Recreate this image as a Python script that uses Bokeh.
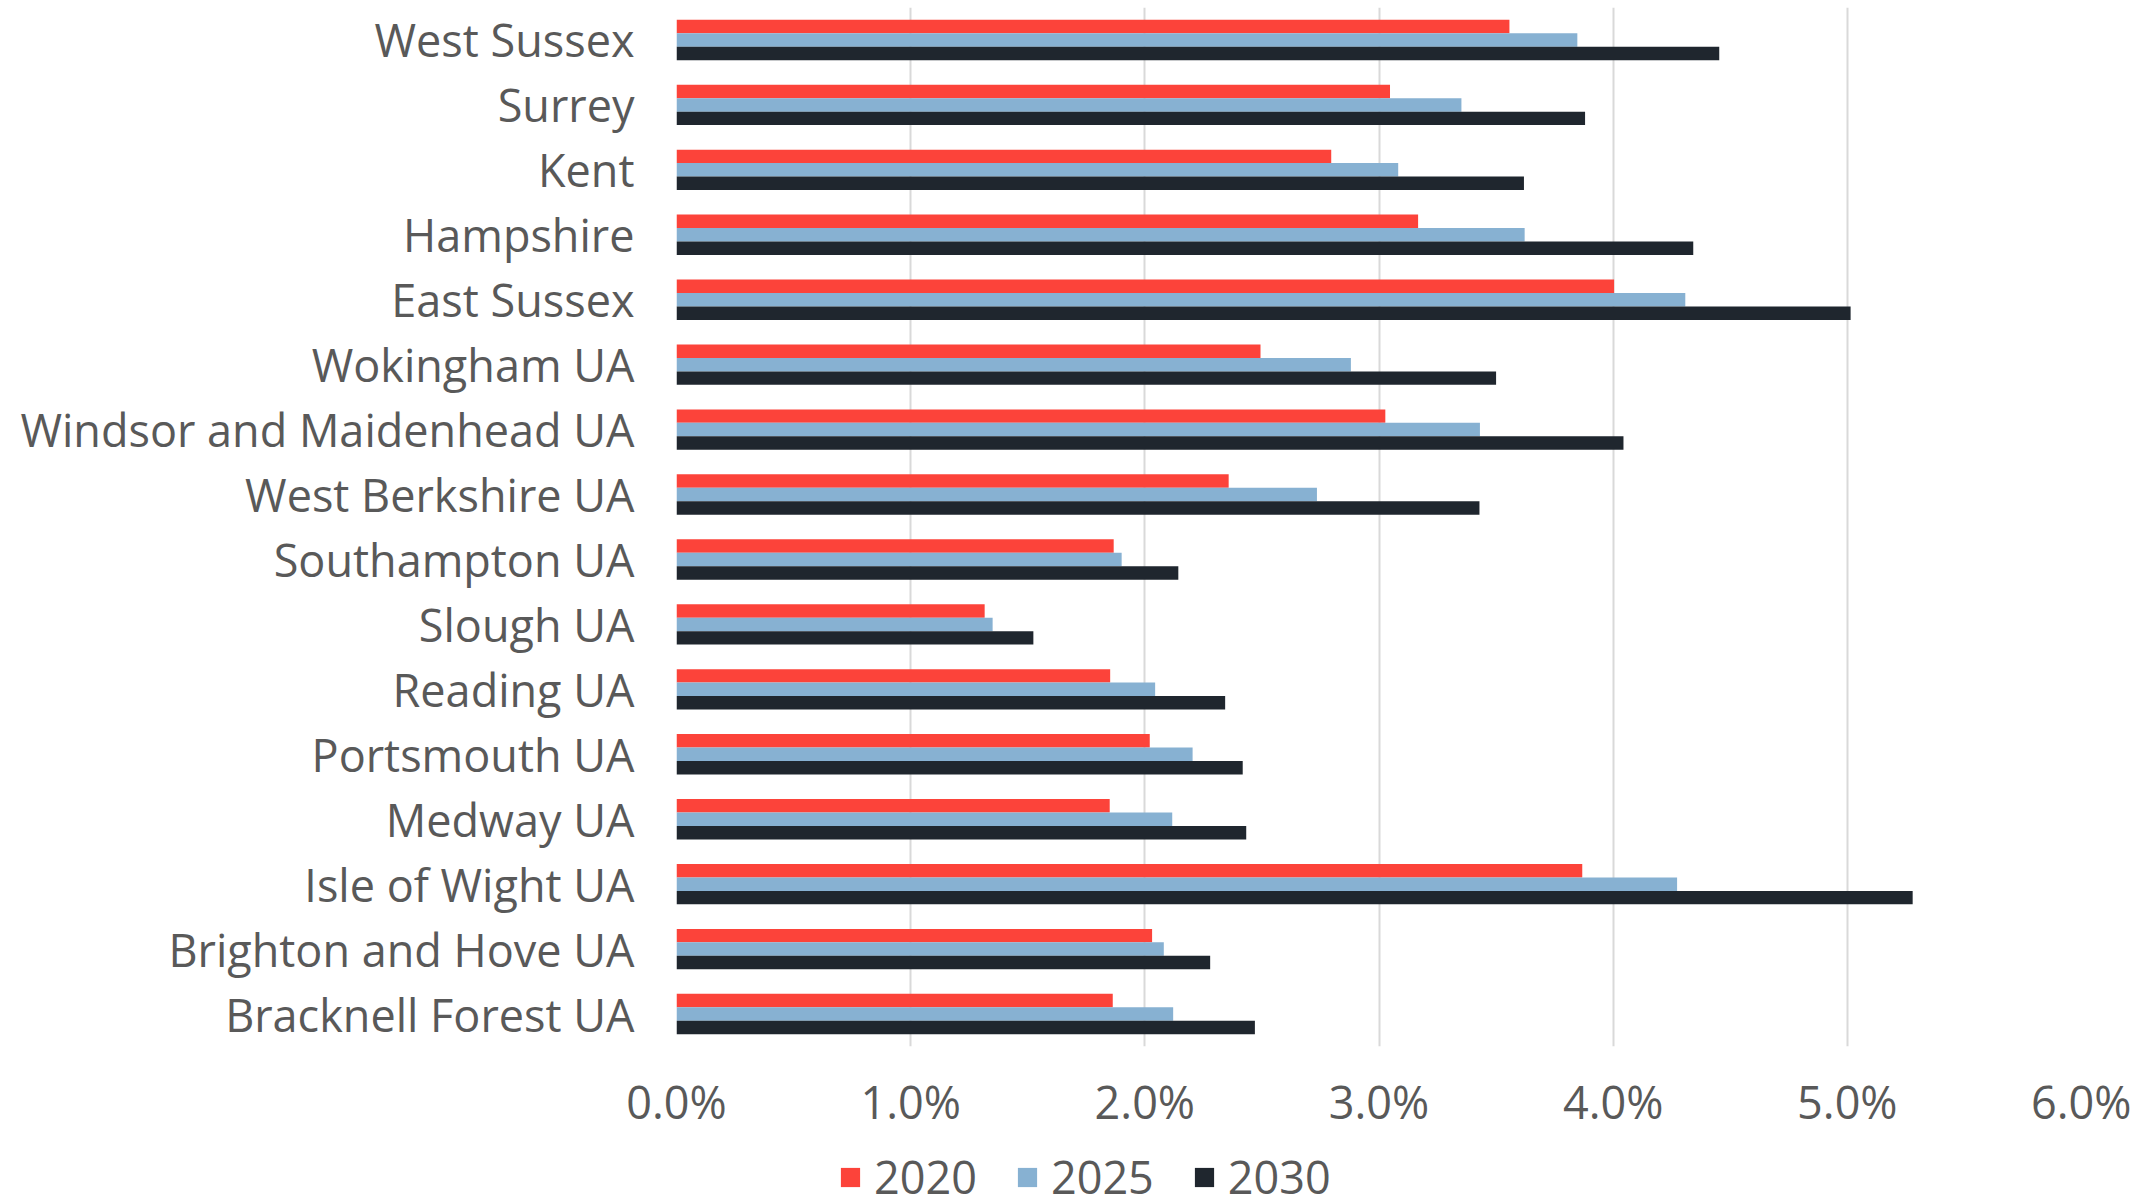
from bokeh.plotting import figure
from bokeh.models import (FactorRange, Range1d, Legend, LegendItem, PrintfTickFormatter,
                          FixedTicker, ColumnDataSource)
from bokeh.layouts import column
from bokeh.transform import dodge
from bokeh.embed import file_html
from bokeh.resources import INLINE

# Categories (top to bottom as shown)
categories = ["West Sussex", "Surrey", "Kent", "Hampshire", "East Sussex", "Wokingham UA",
              "Windsor and Maidenhead UA", "West Berkshire UA", "Southampton UA", "Slough UA",
              "Reading UA", "Portsmouth UA", "Medway UA", "Isle of Wight UA",
              "Brighton and Hove UA", "Bracknell Forest UA"]
# Values in percent
v2020 = [3.557, 3.047, 2.796, 3.167, 4.004, 2.494, 3.027, 2.358, 1.867, 1.316,
         1.852, 2.021, 1.850, 3.868, 2.031, 1.863]
v2025 = [3.847, 3.352, 3.082, 3.622, 4.308, 2.880, 3.431, 2.735, 1.901, 1.350,
         2.044, 2.204, 2.117, 4.273, 2.081, 2.121]
v2030 = [4.453, 3.880, 3.619, 4.342, 5.014, 3.500, 4.044, 3.429, 2.143, 1.524,
         2.343, 2.418, 2.433, 5.279, 2.279, 2.470]
series_names = ["2020", "2025", "2030"]
x_ticks = [0, 1, 2, 3, 4, 5, 6]

colors = ["#fc433a", "#87b1d2", "#1f262e"]
text_color = "#595959"
FONT = "Open Sans"

source = ColumnDataSource(dict(cat=categories, v2020=v2020, v2025=v2025, v2030=v2030))

factors = list(reversed(categories))
p = figure(frame_width=1405, frame_height=1039, output_backend="svg", toolbar_location=None,
           y_range=FactorRange(factors=factors, range_padding=0),
           x_range=Range1d(0, 6),
           min_border_left=676, min_border_right=50, min_border_top=7, min_border_bottom=0)

bar_h = 0.207
offsets = [bar_h, 0.0, -bar_h]
for name, col, off in zip(series_names, colors, offsets):
    p.hbar(y=dodge("cat", off, range=p.y_range), right="v" + name, left=0,
           height=bar_h, source=source, fill_color=col, line_color=None)

p.outline_line_color = None
p.background_fill_color = "white"
p.border_fill_color = "white"
p.ygrid.grid_line_color = None
p.xgrid.grid_line_color = "#d9d9d9"
p.xgrid.grid_line_width = 2
p.xaxis.ticker = FixedTicker(ticks=x_ticks)
p.xaxis.formatter = PrintfTickFormatter(format="%.1f%%")

for ax in (p.xaxis[0], p.yaxis[0]):
    ax.axis_line_color = None
    ax.major_tick_line_color = None
    ax.minor_tick_line_color = None
    ax.major_tick_out = 0
    ax.major_tick_in = 0
    ax.major_label_text_font = FONT
    ax.major_label_text_color = text_color

p.xaxis.major_label_text_font_size = "45px"
p.xaxis.major_label_standoff = 24
p.yaxis.major_label_text_font_size = "45px"
p.yaxis.major_label_standoff = 42

# Legend strip below the chart: a small figure with the same side borders.
# Its bars have zero height and lie outside its y range, so only the legend shows.
lg = figure(width=2131, height=64, output_backend="svg", toolbar_location=None,
            x_range=Range1d(0, 6), y_range=Range1d(0, 1),
            x_axis_location=None, y_axis_location=None,
            min_border_left=676, min_border_right=50, min_border_top=0, min_border_bottom=0)
lg.outline_line_color = None
lg.grid.visible = False
lg.background_fill_color = "white"
lg.border_fill_color = "white"
items = []
for name, col in zip(series_names, colors):
    r = lg.hbar(y=-1, right="v" + name, left=0, height=0, source=source,
                fill_color=col, line_color=None)
    items.append(LegendItem(label=name, renderers=[r]))

legend = Legend(items=items, orientation="horizontal", location=(162, -9),
                glyph_width=24, glyph_height=24, label_standoff=12, spacing=38,
                label_text_font=FONT, label_text_font_size="45px", label_text_color=text_color,
                border_line_color=None, background_fill_alpha=0, padding=0, margin=0)
lg.add_layout(legend, "center")

layout = column(p, lg, spacing=0)
open("out.html", "w").write(file_html(layout, INLINE))
